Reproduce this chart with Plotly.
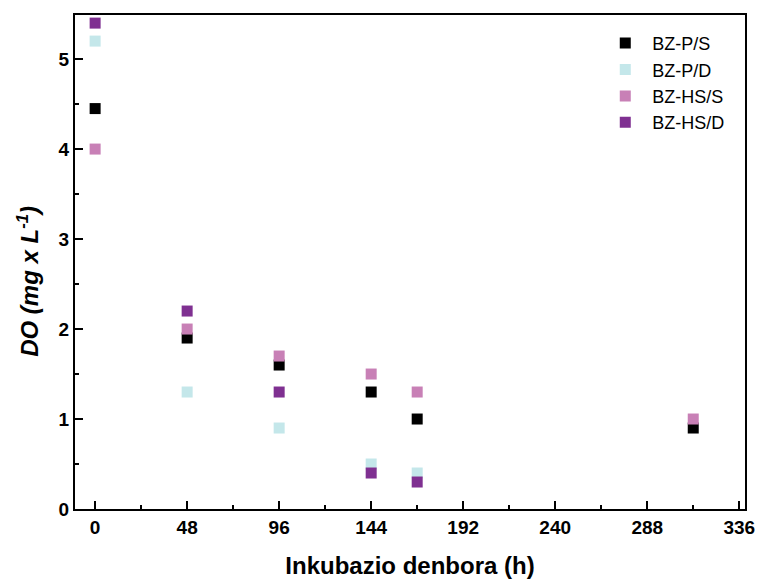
import plotly.graph_objects as go

# Incubation time (h) and dissolved oxygen readings (mg/L) per treatment
hours = [0, 48, 96, 144, 168, 312]
hours_d = [0, 48, 96, 144, 168]

bz_p_s = [4.45, 1.9, 1.6, 1.3, 1.0, 0.9]
bz_p_d = [5.2, 1.3, 0.9, 0.5, 0.4]
bz_hs_s = [4.0, 2.0, 1.7, 1.5, 1.3, 1.0]
bz_hs_d = [5.4, 2.2, 1.3, 0.4, 0.3]

x_ticks = [0, 48, 96, 144, 192, 240, 288, 336]
y_ticks = [0, 1, 2, 3, 4, 5]

series = [
    ("BZ-P/S", hours, bz_p_s, "#000000"),
    ("BZ-P/D", hours_d, bz_p_d, "#c4e7ea"),
    ("BZ-HS/S", hours, bz_hs_s, "#c880b6"),
    ("BZ-HS/D", hours_d, bz_hs_d, "#7f3091"),
]

fig = go.Figure()
for name, xs, ys, color in series:
    fig.add_trace(go.Scatter(
        x=xs, y=ys, mode="markers", name=name,
        marker=dict(symbol="square", size=11, color=color, line=dict(width=0)),
    ))

font_family = "Liberation Sans, Arial, sans-serif"

axis_common = dict(
    showline=True, linecolor="black", linewidth=2, mirror=True,
    ticks="inside", ticklen=8, tickwidth=2, tickcolor="black",
    showgrid=False, zeroline=False, automargin=False,
    tickfont=dict(family=font_family, size=19, color="black", weight="bold"),
)

fig.update_xaxes(
    range=[-10.5, 339], tickvals=x_ticks,
    minor=dict(ticks="inside", ticklen=4, tickwidth=2, tickcolor="black",
               dtick=24, tick0=0, showgrid=False),
    title=dict(text="<b>Inkubazio denbora (h)</b>",
               font=dict(family=font_family, size=24, color="black"), standoff=20),
    **axis_common,
)
fig.update_yaxes(
    range=[0, 5.49], tickvals=y_ticks,
    minor=dict(ticks="inside", ticklen=4, tickwidth=2, tickcolor="black",
               dtick=0.5, tick0=0, showgrid=False),
    **axis_common,
)

fig.add_annotation(
    text="<b><i>DO (mg x L<sup>-1</sup>)</i></b>",
    xref="paper", yref="paper", x=-0.07, y=0.46,
    xanchor="center", yanchor="middle", textangle=-90, showarrow=False,
    font=dict(family=font_family, size=24, color="black"),
)

fig.update_layout(
    width=757, height=583,
    margin=dict(l=75, r=12, t=15, b=74),
    plot_bgcolor="white", paper_bgcolor="white",
    font=dict(family=font_family, color="black"),
    legend=dict(
        x=0.781, y=0.98, xanchor="left", yanchor="top",
        font=dict(family=font_family, size=18, color="black"),
        itemwidth=44, bgcolor="rgba(0,0,0,0)", borderwidth=0,
    ),
)

fig.write_html("out.html")
